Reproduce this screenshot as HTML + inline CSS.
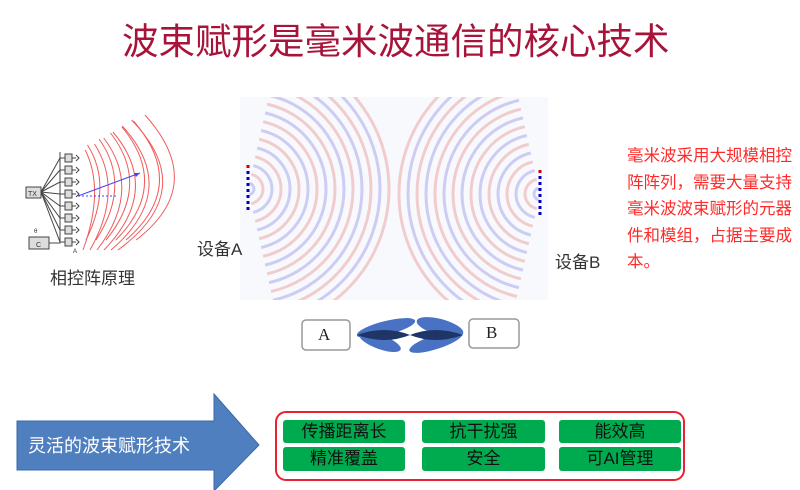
<!DOCTYPE html>
<html><head><meta charset="utf-8"><style>
body{margin:0;width:800px;height:490px;background:#fff;position:relative;overflow:hidden;font-family:"Liberation Sans","Noto Sans CJK SC",sans-serif}
.t{position:absolute;white-space:nowrap}
</style></head><body>
<div class="t" style="left:122px;top:20px;font-size:36.5px;color:#a8133a;line-height:44px">波束赋形是毫米波通信的核心技术</div>

<svg width="800" height="490" style="position:absolute;left:0;top:0">
<defs>
<clipPath id="cA"><rect x="248" y="97" width="150" height="203"/></clipPath>
<clipPath id="cB"><rect x="392" y="97" width="150" height="203"/></clipPath>
</defs>
<rect x="240" y="97" width="308" height="203" fill="#f8f9fc"/>
<g clip-path="url(#cA)" fill="none" stroke-width="3" opacity="0.22" id="wa"></g>
<g clip-path="url(#cB)" fill="none" stroke-width="3" opacity="0.22" id="wb"></g>
<line x1="248" y1="165" x2="248" y2="213" stroke="#c00" stroke-width="3" stroke-dasharray="3 3"/>
<line x1="248" y1="168" x2="248" y2="213" stroke="#00b" stroke-width="3" stroke-dasharray="3 3" stroke-dashoffset="3"/>
<line x1="540" y1="170" x2="540" y2="218" stroke="#c00" stroke-width="3" stroke-dasharray="3 3"/>
<line x1="540" y1="173" x2="540" y2="218" stroke="#00b" stroke-width="3" stroke-dasharray="3 3" stroke-dashoffset="3"/>

<g stroke="#444" fill="none" stroke-width="1">
<rect x="26" y="187" width="15" height="11" fill="#ddd"/>
<rect x="29" y="237" width="20" height="12" fill="#ddd"/>
<path d="M49 243H60V152"/>
</g>
<g id="arr" stroke="#444" stroke-width="1" fill="#ddd"></g>
<text x="28" y="196" font-size="7" fill="#333">TX</text>
<text x="36" y="247" font-size="7" fill="#333">C</text>
<text x="34" y="233" font-size="6" fill="#333">θ</text>
<text x="73" y="253" font-size="6" fill="#333">A</text>
<g id="ph" fill="none" stroke="#e33" stroke-width="1" opacity="0.8"></g>
<line x1="78" y1="196" x2="140" y2="173" stroke="#44f" stroke-width="1"/>
<path d="M140 173l-6 0l2 4z" fill="#44f"/>
<line x1="78" y1="196" x2="118" y2="196" stroke="#44f" stroke-width="1" stroke-dasharray="2 2"/>

<path d="M17 421H214V394L259 445L214 491V470H17Z" fill="#4f7fbf" stroke="#3a6aa8" stroke-width="1"/>
<rect x="276" y="412" width="408" height="68" rx="10" fill="#fff" stroke="#e8222e" stroke-width="2"/>

<rect x="302" y="320" width="48" height="30" rx="4" fill="#fff" stroke="#999" stroke-width="1.5"/>
<rect x="469" y="319" width="50" height="29" rx="4" fill="#fff" stroke="#999" stroke-width="1.5"/>
<ellipse cx="386" cy="328" rx="30" ry="7" transform="rotate(-14 386 328)" fill="#4a72c4"/>
<ellipse cx="380" cy="342" rx="22" ry="7" transform="rotate(20 380 342)" fill="#4a72c4"/>
<ellipse cx="440" cy="327" rx="24" ry="8" transform="rotate(15 440 327)" fill="#4a72c4"/>
<ellipse cx="436" cy="342" rx="28" ry="7" transform="rotate(-18 436 342)" fill="#4a72c4"/>
<path d="M357 335Q385 325 410 335Q435 325 463 335Q435 345 410 335Q385 345 357 335Z" fill="#1e3566"/>
</svg>

<div class="t" style="left:50px;top:264px;font-size:17px;color:#333">相控阵原理</div>
<div class="t" style="left:197px;top:235px;font-size:17px;color:#333">设备A</div>
<div class="t" style="left:555px;top:248px;font-size:17px;color:#333">设备B</div>
<div class="t" style="left:318px;top:325px;font-size:17px;font-family:'Liberation Serif',serif;color:#222">A</div>
<div class="t" style="left:486px;top:323px;font-size:17px;font-family:'Liberation Serif',serif;color:#222">B</div>

<div class="t" style="left:627px;top:143px;font-size:16.5px;color:#ff2a2a;line-height:26.5px;white-space:normal;width:165px">毫米波采用大规模相控阵阵列，需要大量支持毫米波波束赋形的元器件和模组，占据主要成本。</div>

<div class="t" style="left:28px;top:432px;font-size:18px;color:#fff">灵活的波束赋形技术</div>

<div style="position:absolute;left:283px;top:420px;width:122px;height:23px;background:#00aa4f;border-radius:3px;font-size:17px;text-align:center;line-height:23px;color:#111">传播距离长</div>
<div style="position:absolute;left:422px;top:420px;width:123px;height:23px;background:#00aa4f;border-radius:3px;font-size:17px;text-align:center;line-height:23px;color:#111">抗干扰强</div>
<div style="position:absolute;left:559px;top:420px;width:122px;height:23px;background:#00aa4f;border-radius:3px;font-size:17px;text-align:center;line-height:23px;color:#111">能效高</div>
<div style="position:absolute;left:283px;top:447px;width:122px;height:24px;background:#00aa4f;border-radius:3px;font-size:17px;text-align:center;line-height:24px;color:#111">精准覆盖</div>
<div style="position:absolute;left:422px;top:447px;width:123px;height:24px;background:#00aa4f;border-radius:3px;font-size:17px;text-align:center;line-height:24px;color:#111">安全</div>
<div style="position:absolute;left:559px;top:447px;width:122px;height:24px;background:#00aa4f;border-radius:3px;font-size:17px;text-align:center;line-height:24px;color:#111">可AI管理</div>

<script>
var NS="http://www.w3.org/2000/svg";
function arc(g,cx,cy,r,a0,a1,col,dir){var p=document.createElementNS(NS,"path");
var x0=cx+dir*r*Math.cos(a0),y0=cy+r*Math.sin(a0),x1=cx+dir*r*Math.cos(a1),y1=cy+r*Math.sin(a1);
p.setAttribute("d","M"+x0+" "+y0+"A"+r+" "+r+" 0 0 "+(dir>0?1:0)+" "+x1+" "+y1);p.setAttribute("stroke",col);g.appendChild(p);}
var wa=document.getElementById("wa"),wb=document.getElementById("wb");
for(var r=6;r<150;r+=9){var c=(Math.floor(r/9)%2)?"#d33":"#33d";
arc(wa,248,189,r,-1.35,1.35,c,1);arc(wb,540,194,r,-1.35,1.35,c,-1);}
var ar=document.getElementById("arr");
for(var i=0;i<8;i++){var y=158+i*12;
ar.innerHTML+='<path d="M41 192L60 '+y+'H65" fill="none"/><rect x="65" y="'+(y-4)+'" width="7" height="8"/><path d="M72 '+y+'H76M76 '+(y-3)+'L79 '+y+'L76 '+(y+3)+'" fill="none"/>';}
var ph=document.getElementById("ph");
for(var k=0;k<6;k++){var r=15+k*15;var cx=80+k*4;
ph.innerHTML+='<path d="M'+(cx+r*0.35)+' '+(150-k*6)+'Q'+(cx+r+10)+' 190 '+(cx+r*0.2)+' '+(250)+'"/>';
ph.innerHTML+='<path d="M'+(cx+r*0.5)+' '+(145-k*6)+'Q'+(cx+r+18)+' 185 '+(cx+r*0.4)+' '+(240)+'"/>';}
</script>
</body></html>
